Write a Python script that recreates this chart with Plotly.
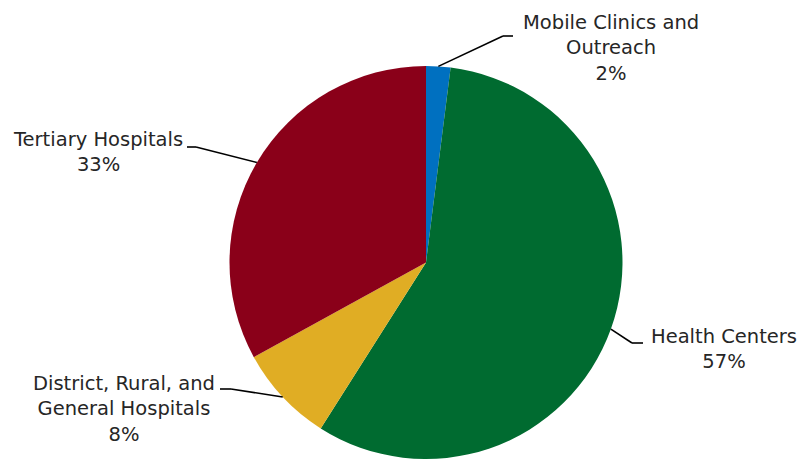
import math
import plotly.graph_objects as go

# Share of facilities by type
categories = ["Mobile Clinics and Outreach", "Health Centers",
              "District, Rural, and General Hospitals", "Tertiary Hospitals"]
values = [2, 57, 8, 33]
label_text = ["Mobile Clinics and<br>Outreach<br>2%", "Health Centers<br>57%",
              "District, Rural, and<br>General Hospitals<br>8%", "Tertiary Hospitals<br>33%"]
colors = ["#0070C0", "#006B30", "#E0AD24", "#8A0019"]

W, H = 801, 459
# pie box in pixels (left, right, top, bottom)
box = (227, 625, 66, 459)
cx = (box[0] + box[1]) / 2
rad = min(box[1] - box[0], box[3] - box[2]) / 2
cy = box[2] + rad

# label block centres (px), and elbow points of the leader lines (px)
label_pos = [(611, 48), (724, 349), (124, 409), (98, 152)]
elbow = [((503, 36), (513, 36)), ((632, 343), (643, 343)),
         ((231, 389), (220, 389)), ((196, 147), (187, 147))]

fig = go.Figure(go.Pie(
    labels=categories, values=values, sort=False, direction="clockwise",
    rotation=0, textinfo="none", hoverinfo="label+percent",
    marker=dict(colors=colors, line=dict(width=0)),
    domain=dict(x=[box[0] / W, box[1] / W], y=[1 - box[3] / H, 1 - box[2] / H]),
))

def px2paper(x, y):
    return x / W, 1 - y / H

total = sum(values)
cum = 0
shapes, annotations = [], []
for v, txt, (lx, ly), (e1, e2) in zip(values, label_text, label_pos, elbow):
    mid = (cum + v / 2) / total * 2 * math.pi
    cum += v
    sx = cx + rad * math.sin(mid)
    sy = cy - rad * math.cos(mid)
    pts = [(sx, sy), e1, e2]
    for (x0, y0), (x1, y1) in zip(pts[:-1], pts[1:]):
        a0, b0 = px2paper(x0, y0)
        a1, b1 = px2paper(x1, y1)
        shapes.append(dict(type="line", xref="paper", yref="paper",
                           x0=a0, y0=b0, x1=a1, y1=b1,
                           line=dict(color="black", width=1.6)))
    ax, ay = px2paper(lx, ly)
    annotations.append(dict(text=txt, x=ax, y=ay, xref="paper", yref="paper",
                            xanchor="center", yanchor="middle", showarrow=False,
                            align="center",
                            font=dict(family="DejaVu Sans", size=19.5, color="#262626")))

fig.update_layout(
    width=W, height=H, margin=dict(l=0, r=0, t=0, b=0),
    paper_bgcolor="white", plot_bgcolor="white", showlegend=False,
    shapes=shapes, annotations=annotations,
)

fig.write_html("out.html")
